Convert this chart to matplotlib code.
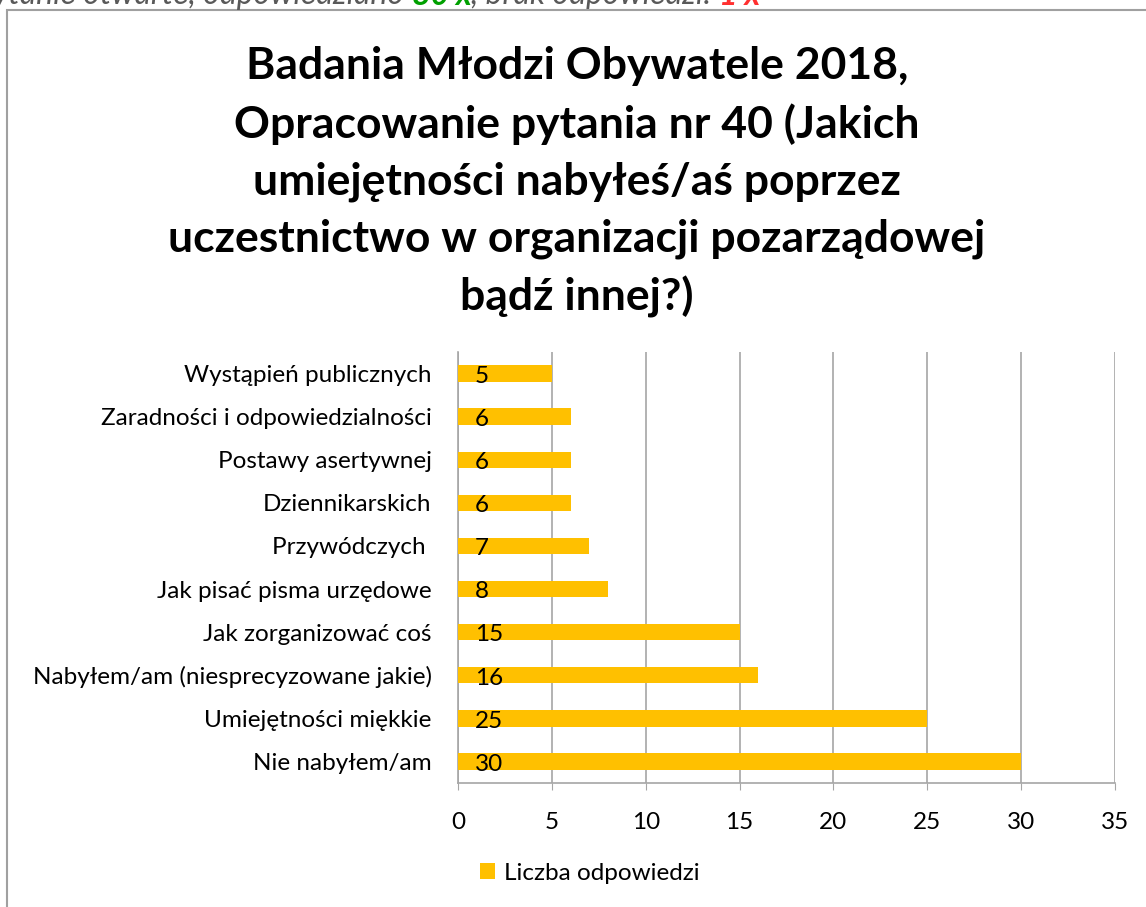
import matplotlib
matplotlib.use("Agg")
import matplotlib.pyplot as plt
from matplotlib.patches import Rectangle

plt.rcParams['font.family'] = ['Lato', 'DejaVu Sans']

# dane z wykresu (od gory do dolu)
categories = [
    "Wystąpień publicznych",
    "Zaradności i odpowiedzialności",
    "Postawy asertywnej",
    "Dziennikarskich",
    "Przywódczych ",
    "Jak pisać pisma urzędowe",
    "Jak zorganizować coś",
    "Nabyłem/am (niesprecyzowane jakie)",
    "Umiejętności miękkie",
    "Nie nabyłem/am",
]
counts = [5, 6, 6, 6, 7, 8, 15, 16, 25, 30]
x_ticks = [0, 5, 10, 15, 20, 25, 30, 35]
series_name = "Liczba odpowiedzi"
title = ("Badania Młodzi Obywatele 2018,\nOpracowanie pytania nr 40 (Jakich\n"
         "umiejętności nabyłeś/aś poprzez\nuczestnictwo w organizacji pozarządowej\n"
         "bądź innej?)")
# przyciety wiersz nad wykresem: (tekst, kolor)
top_line = [("ytanie otwarte, odpowiedziano ", "#595959"), ("80 x", "#00A000"),
            (", brak odpowiedzi: ", "#595959"), ("1 x", "#FF3030")]

bar_color = "#FFC000"
grid_color = "#A6A6A6"
fs = 17.5

fig = plt.figure(figsize=(11.46, 9.07), dpi=100)
ax = fig.add_axes([458/1146, 1-783/907, (1115-458)/1146, (783-352)/907])

pos = list(range(len(categories)))
bars = ax.barh(pos, counts, height=0.38, color=bar_color, label=series_name, zorder=3)
ax.set_ylim(len(categories) - 0.5, -0.5)
ax.set_xlim(0, 35)
ax.set_xticks(x_ticks)
ax.set_yticks(pos)
ax.set_yticklabels(categories, fontsize=fs)
ax.tick_params(axis='y', length=0, pad=19)
ax.tick_params(axis='x', labelsize=fs, length=5, color=grid_color, pad=16)
ax.grid(axis='x', color=grid_color, lw=1.2, zorder=0)
for s in ['top', 'right']:
    ax.spines[s].set_visible(False)
for s in ['left', 'bottom']:
    ax.spines[s].set_color(grid_color)
    ax.spines[s].set_linewidth(1.2)

# etykiety wartosci przy poczatku slupka
for b, v in zip(bars, counts):
    ax.annotate(str(v), (0, b.get_y() + b.get_height() / 2), xytext=(12, -2),
                textcoords='offset points', ha='left', va='center',
                fontsize=fs, color='black', zorder=4)

fig.text(577/1146, 1-182/907, title, ha='center', va='center', fontsize=32,
         fontweight='bold', linespacing=1.5)

fig.legend(handles=[bars], labels=[series_name], loc='center',
           bbox_to_anchor=(590/1146, 1-873/907), frameon=False, fontsize=fs,
           handlelength=0.6, handleheight=0.6, handletextpad=0.4)

# obramowanie wykresu (przyciete)
fig.patches.append(Rectangle((7/1146, -0.2), 1.3, 1.2 - 10/907, transform=fig.transFigure,
                             fill=False, edgecolor="#A0A0A0", lw=1.5))

# przyciety wiersz tekstu nad wykresem (jak w oryginale)
top_fs = 23
prev = fig.text(-0.006, 1 - 10/907, top_line[0][0], fontsize=top_fs, style='italic',
                color=top_line[0][1], va='bottom')
for txt, col in top_line[1:]:
    prev = ax.annotate(txt, xy=(1, 0), xycoords=prev, va='bottom', ha='left',
                       fontsize=top_fs, style='italic', color=col,
                       fontweight='bold' if col != "#595959" else 'normal',
                       annotation_clip=False)

fig.savefig("out.png", dpi=100)
